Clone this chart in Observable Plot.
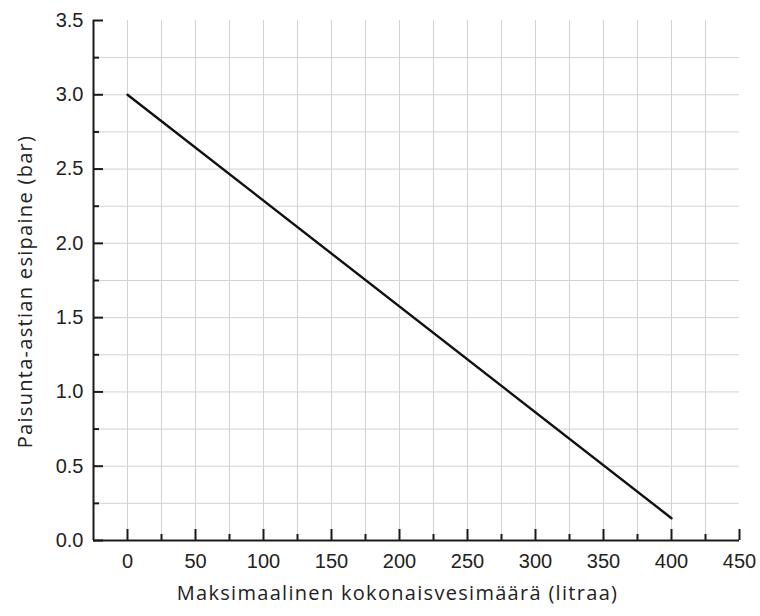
<!DOCTYPE html>
<html>
<head>
<meta charset="utf-8">
<script src="https://cdn.jsdelivr.net/npm/d3@7"></script>
<script src="https://cdn.jsdelivr.net/npm/@observablehq/plot@0.6"></script>
<style>
  body { margin: 0; background: #fff; }
</style>
</head>
<body>
<div id="chart"></div>
<script>
// Pre-charge pressure of the expansion vessel vs. maximum total water volume
const volume = [0, 400];          // litres
const pressure = [3.0, 0.15];     // bar

// Axis ticks and grid positions
const xMajor = [0, 50, 100, 150, 200, 250, 300, 350, 400, 450];
const xMinor = [25, 75, 125, 175, 225, 275, 325, 375, 425];
const yMajor = [0, 0.5, 1.0, 1.5, 2.0, 2.5, 3.0, 3.5];
const yMinor = [0.25, 0.75, 1.25, 1.75, 2.25, 2.75, 3.25];
const xGrid = [0, 25, 50, 75, 100, 125, 150, 175, 200, 225, 250, 275, 300, 325, 350, 375, 400, 425];
const yGrid = [0.25, 0.5, 0.75, 1.0, 1.25, 1.5, 1.75, 2.0, 2.25, 2.5, 2.75, 3.0, 3.25];

const xLabel = "Maksimaalinen kokonaisvesimäärä (litraa)";
const yLabel = "Paisunta-astian esipaine (bar)";

const series = volume.map((v, i) => ({volume: v, pressure: pressure[i]}));

const W = 760, H = 616;
const mL = 93, mR = 21, mT = 20, mB = 76;
const innerW = W - mL - mR, innerH = H - mT - mB;

const ink = "#1a1a1a";
const gridColor = "#d2d2d2";
const titleFont = "'Open Sans', sans-serif";

const chart = Plot.plot({
  width: W,
  height: H,
  marginLeft: mL,
  marginRight: mR,
  marginTop: mT,
  marginBottom: mB,
  style: {fontFamily: "'Liberation Sans', Arial, sans-serif", color: ink, background: "#fff"},
  x: {domain: [-25, 450], axis: null},
  y: {domain: [0, 3.5], axis: null},
  marks: [
    // grid
    Plot.ruleX(xGrid, {x: d => d, stroke: gridColor, strokeWidth: 1}),
    Plot.ruleY(yGrid, {y: d => d, stroke: gridColor, strokeWidth: 1}),
    // data line
    Plot.line(series, {x: "volume", y: "pressure", stroke: "#111", strokeWidth: 2.4}),
    // axis lines
    Plot.ruleX([-25], {stroke: ink, strokeWidth: 2}),
    Plot.ruleY([0], {stroke: ink, strokeWidth: 2}),
    // inward tick marks
    Plot.tickX(xMajor, {x: d => d, insetTop: innerH - 11, stroke: ink, strokeWidth: 2}),
    Plot.tickX(xMinor, {x: d => d, insetTop: innerH - 6, stroke: ink, strokeWidth: 2}),
    Plot.tickY(yMajor, {y: d => d, insetRight: innerW - 10, stroke: ink, strokeWidth: 2}),
    Plot.tickY(yMinor, {y: d => d, insetRight: innerW - 6, stroke: ink, strokeWidth: 2}),
    // tick labels
    Plot.axisX(xMajor, {tickSize: 0, tickPadding: 13, fontSize: 20, label: null, fill: "#222"}),
    Plot.axisY(yMajor, {tickSize: 0, tickPadding: 10, fontSize: 20, label: null, tickFormat: d => d.toFixed(1), fill: "#222"}),
    // axis titles
    Plot.text([xLabel], {text: d => d, frameAnchor: "bottom", textAnchor: "middle", dx: -19, dy: 59, fontSize: 20, fontFamily: titleFont, fill: "#222"}),
    Plot.text([yLabel], {text: d => d, frameAnchor: "left", textAnchor: "middle", rotate: -90, dx: -68, dy: 11, fontSize: 20, fontFamily: titleFont, fill: "#222"})
  ]
});

// slightly open tracking on the axis titles
d3.select(chart).selectAll("g[aria-label='text'] text").style("letter-spacing", "1.3px");

document.getElementById("chart").appendChild(chart);
</script>
</body>
</html>
